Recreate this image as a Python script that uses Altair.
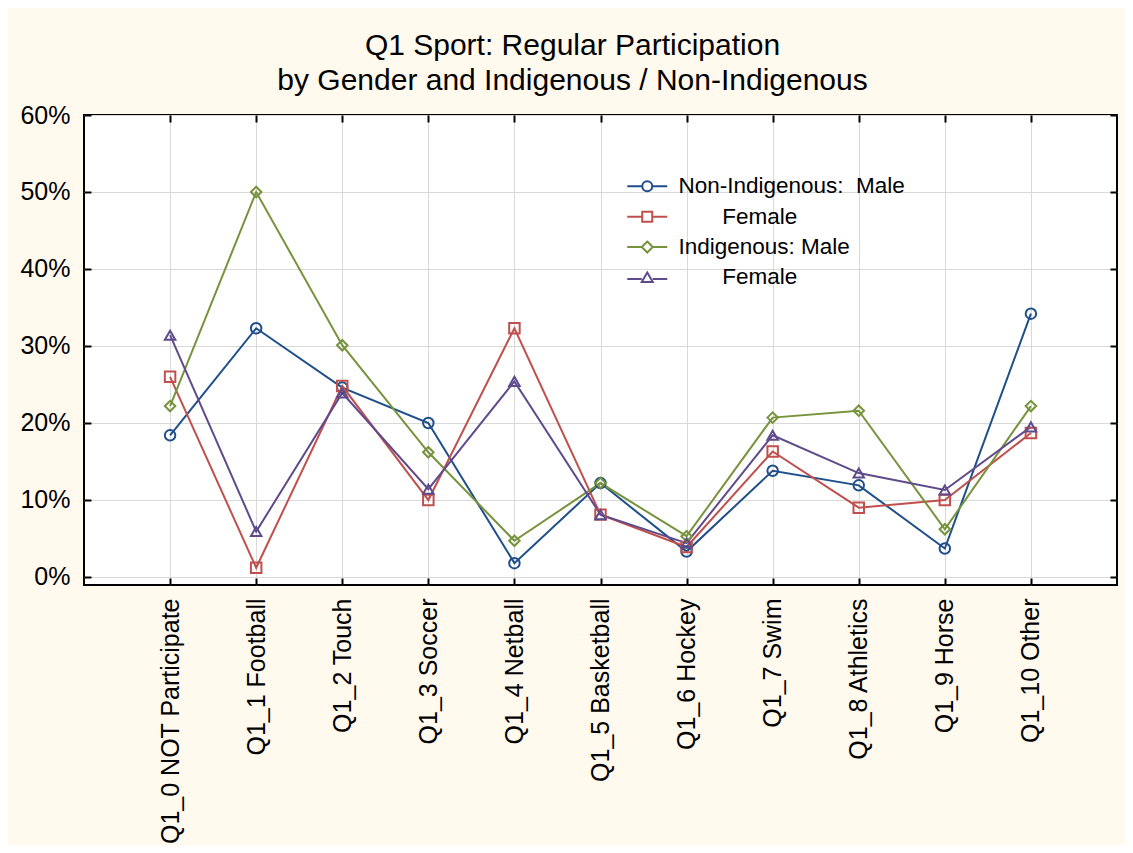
import altair as alt
import pandas as pd

categories = [
    "Q1_0 NOT Participate", "Q1_1 Football", "Q1_2 Touch", "Q1_3 Soccer",
    "Q1_4 Netball", "Q1_5 Basketball", "Q1_6 Hockey", "Q1_7 Swim",
    "Q1_8 Athletics", "Q1_9 Horse", "Q1_10 Other",
]

nonind_male = [18.4, 32.3, 24.6, 20.0, 1.8, 12.2, 3.3, 13.8, 11.9, 3.7, 34.2]
nonind_female = [26.0, 1.2, 24.8, 10.0, 32.3, 8.1, 3.9, 16.3, 9.0, 10.0, 18.7]
ind_male = [22.2, 50.0, 30.1, 16.2, 4.7, 12.2, 5.3, 20.7, 21.6, 6.2, 22.2]
ind_female = [31.4, 5.9, 23.9, 11.4, 25.4, 8.1, 4.4, 18.4, 13.5, 11.3, 19.5]

series_keys = ["NI_M", "NI_F", "I_M", "I_F"]
NB = "\u00a0"
ZW = "\u200b"
series_labels = [
    "Non-Indigenous:" + NB + NB + "Male",
    ZW + NB * 7 + "Female",
    "Indigenous:" + NB + "Male",
    ZW + NB * 7 + "Female",
]
colors = ["#1f4e8a", "#c0504d", "#77933c", "#5f4b8b"]
shapes = ["circle", "square", "diamond", "triangle-up"]
legend_paths = [
    "M-4,0L-1,0M1,0L4,0M-1,0A1,1,0,1,0,1,0A1,1,0,1,0,-1,0",
    "M-4,0L-1,0M1,0L4,0M-1,-1L1,-1L1,1L-1,1Z",
    "M-4,0L-1.1,0M1.1,0L4,0M0,-1.1L1.1,0L0,1.1L-1.1,0Z",
    "M-4,0.3L-1.1,0.3M1.1,0.3L4,0.3M0,-1L1.1,0.9L-1.1,0.9Z",
]

rows = []
for key, vals in zip(series_keys, [nonind_male, nonind_female, ind_male, ind_female]):
    for c, v in zip(categories, vals):
        rows.append({"category": c, "series": key, "value": v / 100.0})
df = pd.DataFrame(rows)

W, H = 1033, 470
FONT = "Liberation Sans"

xscale = alt.Scale(type="point", domain=categories, padding=1)
yscale = alt.Scale(domain=[-0.0104, 0.6], nice=False, zero=False)
cscale = alt.Scale(domain=series_keys, range=colors)
yvals = [0, 0.1, 0.2, 0.3, 0.4, 0.5, 0.6]

label_expr = "{" + ", ".join(
    f"'{k}': '{l}'" for k, l in zip(series_keys, series_labels)
) + "}[datum.value]"

tick_axis = dict(labels=False, ticks=True, tickSize=7, tickWidth=2, tickColor="black",
                 domain=False, grid=False, title=None)

base = alt.Chart(df)

lines = base.mark_line(strokeWidth=2).encode(
    x=alt.X("category:N", scale=xscale, sort=categories,
            axis=alt.Axis(orient="bottom", title=None, labelAngle=270, labelFontSize=25,
                          labelFont=FONT, labelColor="black", labelLimit=400,
                          ticks=False, domain=False, grid=True, gridColor="#d9d9d9",
                          gridWidth=1, labelPadding=13)),
    y=alt.Y("value:Q", scale=yscale,
            axis=alt.Axis(orient="left", title=None, format=".0%", values=yvals,
                          ticks=False, domain=False, grid=True, gridColor="#d9d9d9",
                          gridWidth=1, labelPadding=14, labelFontSize=25,
                          labelFont=FONT, labelColor="black")),
    color=alt.Color("series:N", scale=cscale, legend=None),
)

points = base.mark_point(filled=False, size=110, strokeWidth=2, opacity=1).encode(
    x=alt.X("category:N", scale=xscale, sort=categories,
            axis=alt.Axis(orient="top", offset=-H, **tick_axis)),
    y=alt.Y("value:Q", scale=yscale,
            axis=alt.Axis(orient="right", offset=-W, values=yvals, **tick_axis)),
    color=alt.Color("series:N", scale=cscale, legend=None),
    shape=alt.Shape("series:N", scale=alt.Scale(domain=series_keys, range=shapes), legend=None),
)

leg_kwargs = dict(
    title=None, orient="none", legendX=552, legendY=60, labelExpr=label_expr,
    labelFontSize=22.5, labelFont=FONT, labelColor="black", symbolSize=100,
    symbolStrokeWidth=2, labelOffset=20, rowPadding=7.4, padding=0, labelLimit=500,
    symbolFillColor="transparent",
)

legend_layer = base.transform_filter("false").mark_point(
    filled=False, strokeWidth=2, opacity=1
).encode(
    x=alt.X("category:N", scale=xscale, sort=categories,
            axis=alt.Axis(orient="bottom", offset=-H, **tick_axis)),
    y=alt.Y("value:Q", scale=yscale,
            axis=alt.Axis(orient="left", offset=-W, values=yvals, **tick_axis)),
    color=alt.Color("series:N", scale=cscale, legend=alt.Legend(**leg_kwargs)),
    shape=alt.Shape("series:N", scale=alt.Scale(domain=series_keys, range=legend_paths),
                    legend=alt.Legend(**leg_kwargs)),
)

chart = alt.layer(lines, points, legend_layer).resolve_scale(
    shape="independent"
).resolve_axis(
    x="independent", y="independent"
).resolve_legend(
    color="independent", shape="independent"
).properties(
    width=W, height=H,
    title=alt.TitleParams(
        text=["Q1 Sport: Regular Participation", "by Gender and Indigenous / Non-Indigenous"],
        fontSize=30, font=FONT, fontWeight="normal", color="black",
        anchor="middle", frame="group", dx=-28, offset=7, lineHeight=35,
    ),
    autosize=alt.AutoSizeParams(type="none"),
    padding={"left": 76, "top": 107, "right": 8, "bottom": 260},
    background="#fff9ee",
).configure_view(
    stroke="black", strokeWidth=2, fill="white"
)

chart.save("out.html", embed_options={"renderer": "svg", "actions": False})
